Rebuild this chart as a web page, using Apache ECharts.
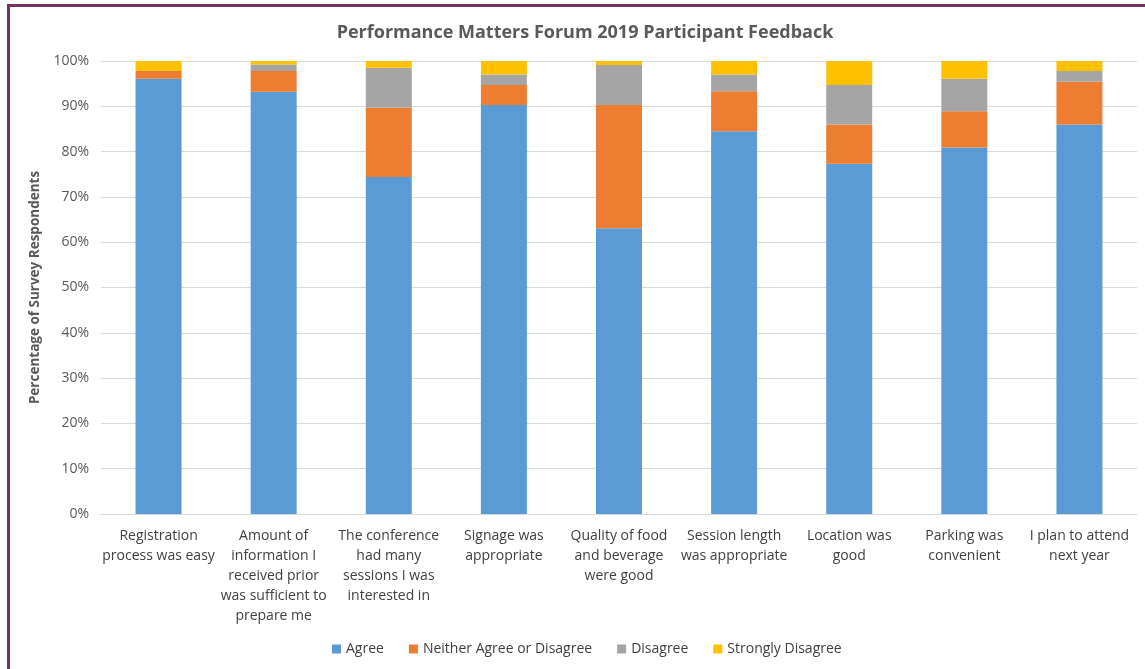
<!DOCTYPE html>
<html>
<head>
<meta charset="utf-8">
<script src="https://cdn.jsdelivr.net/npm/echarts@6/dist/echarts.min.js"></script>
<style>html,body{margin:0;padding:0;background:#fff;}#c{width:1145px;height:669px;}</style>
</head>
<body>
<div id="c"></div>
<script>
const categories = [
  "Registration\nprocess was easy",
  "Amount of\ninformation I\nreceived prior\nwas sufficient to\nprepare me",
  "The conference\nhad many\nsessions I was\ninterested in",
  "Signage was\nappropriate",
  "Quality of food\nand beverage\nwere good",
  "Session length\nwas appropriate",
  "Location was\ngood",
  "Parking was\nconvenient",
  "I plan to attend\nnext year"
];
const agree = [96.1, 93.2, 74.4, 90.3, 63.1, 84.5, 77.3, 80.9, 86.0];
const neither = [1.7, 4.6, 15.3, 4.4, 27.2, 8.8, 8.7, 8.0, 9.4];
const disagree = [0.0, 1.4, 8.8, 2.3, 8.8, 3.7, 8.7, 7.2, 2.4];
const strongly = [2.2, 0.8, 1.5, 3.0, 0.9, 3.0, 5.3, 3.9, 2.2];
const seriesNames = ["Agree", "Neither Agree or Disagree", "Disagree", "Strongly Disagree"];
const colors = ["#5B9BD5", "#ED7D31", "#A5A5A5", "#FFC000"];
const yTicks = [0, 10, 20, 30, 40, 50, 60, 70, 80, 90, 100];

const font = "'Open Sans', 'Liberation Sans', sans-serif";
const chart = echarts.init(document.getElementById('c'));
const values = [agree, neither, disagree, strongly];
chart.setOption({
  animation: false,
  backgroundColor: '#fff',
  title: {
    text: 'Performance Matters Forum 2019 Participant Feedback',
    left: 580, top: 19, textAlign: 'center',
    textStyle: { fontFamily: font, fontSize: 18, fontWeight: 'bold', color: '#595959' }
  },
  legend: {
    bottom: 8, left: 327,
    itemWidth: 9, itemHeight: 9, itemGap: 25,
    icon: 'rect',
    textStyle: { fontFamily: font, fontSize: 14, color: '#404040' },
    data: seriesNames
  },
  grid: { left: 101, right: 8, top: 61, bottom: 155 },
  xAxis: {
    type: 'category', data: categories,
    axisLine: { show: true, lineStyle: { color: '#D9D9D9' } },
    axisTick: { show: false },
    axisLabel: { fontFamily: font, fontSize: 14, color: '#404040', lineHeight: 20, margin: 12, interval: 0 }
  },
  yAxis: {
    type: 'value', min: 0, max: 100, interval: 10,
    name: 'Percentage of Survey Respondents',
    nameLocation: 'middle', nameGap: 57, nameRotate: 90,
    nameTextStyle: { fontFamily: font, fontSize: 13.5, fontWeight: 'bold', color: '#595959' },
    axisLabel: { fontFamily: font, fontSize: 14, color: '#595959', margin: 12, formatter: v => v + '%' },
    axisLine: { show: false }, axisTick: { show: false },
    splitLine: { lineStyle: { color: '#D9D9D9', width: 1 } }
  },
  series: seriesNames.map((n, i) => ({
    name: n, type: 'bar', stack: 'total', barWidth: 46,
    itemStyle: { color: colors[i] },
    data: values[i]
  })),
  graphic: [
    { type: 'rect', shape: { x: 7, y: 4, width: 1145, height: 3 }, style: { fill: '#7A2F5F' }, silent: true },
    { type: 'rect', shape: { x: 7, y: 4, width: 3, height: 669 }, style: { fill: '#7A2F5F' }, silent: true }
  ]
});
</script>
</body>
</html>
